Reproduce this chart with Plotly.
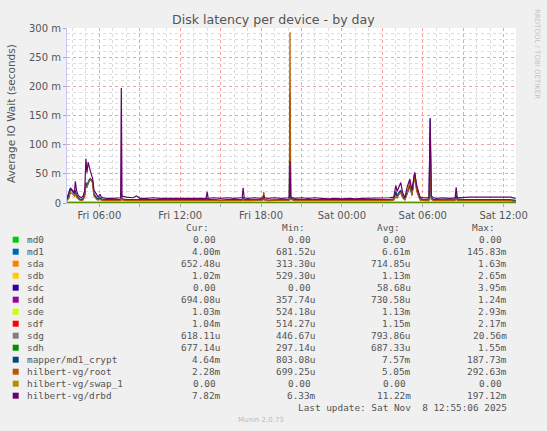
import pandas as pd
import plotly.graph_objects as go

# hours since Fri 2025-11-07 00:00, values in milliseconds
hours = [3.6, 3.75, 3.85, 4.0, 4.15, 4.22, 4.3, 4.4, 4.52, 4.67, 4.8, 4.92, 5.0, 5.08, 5.17, 5.25, 5.33, 5.42, 5.5, 5.6, 5.7, 5.8, 5.92, 6.05, 6.15, 6.3, 6.5,
         7.0, 7.5, 7.58, 7.63, 7.68, 8.0, 8.5, 8.75, 9.0, 9.5, 10.0, 10.5, 11.0, 11.5, 12.0, 12.5, 13.0, 13.5, 13.92,
         14.0, 14.08, 14.5, 15.0, 15.5, 16.0, 16.5, 16.6, 16.67, 16.75, 17.0, 17.5, 18.0, 18.12, 18.2, 18.28, 18.5, 19.0, 19.5, 20.0, 20.1, 20.15, 20.2, 20.5, 21.0,
         21.5, 22.0, 22.5, 23.0, 23.5, 24.0, 24.5, 25.0, 25.5, 26.0, 26.5, 27.0, 27.5,
         27.85, 28.0, 28.1, 28.22, 28.37, 28.5, 28.67, 28.85, 29.04, 29.2, 29.4, 29.55, 29.8, 30.0,
         30.25, 30.47, 30.55, 30.63, 30.8, 31.0, 31.5, 32.0, 32.4, 32.48, 32.56, 33.0, 33.5, 34.0, 34.5, 35.0, 35.5, 36.0, 36.5, 36.9]

md1 = [5, 13, 23, 20, 15, 20, 13, 9, 6, 5, 7, 14, 32, 28, 35, 37, 40, 38, 36, 15, 11, 8, 6, 8, 6, 5, 5,
       5, 5, 5, 18, 6, 5, 5, 6, 5, 5, 5, 5, 5, 5, 5, 5, 5, 5, 5,
       7, 5, 5, 4, 5, 5, 5, 5, 9, 5, 5, 5, 4, 5, 8, 5, 4, 5, 5, 5, 5, 140, 7, 5, 5,
       5, 5, 4, 4, 4, 4, 4, 4, 5, 5, 5, 5, 5,
       6, 18, 11, 17, 20, 11, 6, 18, 28, 14, 50, 23, 7, 5,
       5, 6, 145.8, 8, 5, 5, 5, 5, 6, 12, 6, 5, 5, 5, 5, 5, 5, 5, 5, 4.0]

mapper_md1_crypt = [6, 14, 24, 21, 16, 22, 14, 10, 7, 6, 8, 15, 35, 30, 38, 40, 42, 40, 38, 16, 12, 9, 7, 9, 7, 6, 6,
                    6, 6, 6, 20, 7, 6, 6, 7, 6, 6, 6, 6, 6, 6, 6, 6, 6, 6, 6,
                    8, 6, 6, 5, 6, 6, 6, 6, 10, 6, 6, 6, 5, 6, 9, 6, 5, 6, 6, 6, 6, 187.7, 8, 6, 6,
                    6, 6, 5, 5, 5, 5, 5, 5, 6, 6, 6, 6, 6,
                    7, 20, 12, 18, 22, 12, 7, 20, 30, 15, 52, 25, 8, 6,
                    6, 7, 120, 9, 6, 6, 6, 6, 7, 14, 7, 6, 6, 6, 6, 6, 6, 6, 6, 4.6]

vg_root = [4, 8, 18, 16, 12, 16, 10, 7, 5, 4, 5, 12, 30, 26, 36, 38, 40, 38, 34, 12, 9, 6, 5, 6, 5, 4, 4,
           4, 4, 4, 15, 5, 4, 4, 5, 4, 4, 4, 4, 4, 4, 4, 4, 4, 4, 4,
           5, 4, 4, 4, 4, 4, 4, 4, 6, 4, 4, 4, 4, 5, 19, 5, 4, 4, 4, 4, 5, 292.6, 6, 4, 4,
           4, 4, 4, 3, 3, 3, 3, 3, 4, 4, 4, 4, 4,
           5, 12, 8, 14, 18, 9, 5, 16, 38, 12, 45, 20, 5, 4,
           4, 4, 60, 6, 4, 4, 4, 4, 4, 8, 4, 4, 4, 4, 4, 4, 4, 4, 4, 2.3]

vg_drbd = [9, 18, 26, 22, 18, 37, 22, 15, 11, 9, 12, 22, 76, 52, 70, 62, 55, 48, 42, 22, 18, 14, 10, 15, 10, 9, 8,
           8, 8, 9, 197, 12, 10, 9, 12, 8, 8, 9, 8, 8, 9, 8, 9, 8, 9, 8,
           19, 8, 9, 8, 9, 8, 9, 9, 26, 9, 8, 9, 8, 9, 12, 9, 8, 9, 8, 8, 9, 72, 10, 8, 9,
           8, 9, 8, 7, 8, 7, 8, 7, 8, 8, 9, 8, 9,
           10, 30, 20, 28, 35, 18, 9, 28, 41, 22, 52, 30, 10, 9,
           9, 9, 145, 12, 9, 8, 9, 8, 9, 27, 9, 10, 10, 10, 10, 10, 10, 10, 10, 7.8]

# the quiet devices, read at a coarser step
hours_coarse = [3.6, 6.0, 9.0, 12.0, 15.0, 18.0, 21.0, 24.0, 27.0, 30.0, 33.0, 36.9]
md0 = [0, 0, 0, 0, 0, 0, 0, 0, 0, 0, 0, 0]
sda = [0.7, 0.8, 0.7, 0.6, 0.7, 0.7, 0.8, 0.7, 0.6, 0.9, 0.7, 0.65]
sdb = [1.1, 1.2, 1.1, 1.0, 1.1, 1.2, 1.1, 1.0, 1.1, 1.3, 1.1, 1.02]
sdc = [0.1, 0.0, 0.1, 0.0, 0.0, 0.1, 0.0, 0.0, 0.1, 0.0, 0.0, 0.0]
sdd = [0.7, 0.8, 0.7, 0.7, 0.7, 0.8, 0.7, 0.7, 0.7, 0.8, 0.7, 0.69]
sde = [1.1, 1.2, 1.1, 1.1, 1.1, 1.2, 1.1, 1.0, 1.1, 1.3, 1.1, 1.03]
sdf = [1.2, 1.2, 1.1, 1.1, 1.2, 1.2, 1.1, 1.1, 1.2, 1.3, 1.1, 1.04]
sdg = [0.8, 0.9, 0.8, 0.8, 0.8, 0.8, 0.8, 0.7, 0.8, 0.9, 0.8, 0.62]
sdh = [0.7, 0.8, 0.7, 0.7, 0.7, 0.7, 0.7, 0.6, 0.7, 0.8, 0.7, 0.68]
swap_1 = [0, 0, 0, 0, 0, 0, 0, 0, 0, 0, 0, 0]

names = ["md0", "md1", "sda", "sdb", "sdc", "sdd", "sde", "sdf", "sdg", "sdh",
         "mapper/md1_crypt", "hilbert-vg/root", "hilbert-vg/swap_1", "hilbert-vg/drbd"]
colors = ["#00CC00", "#0066B3", "#FF8000", "#FFCC00", "#330099", "#990099", "#CCFF00",
          "#FF0000", "#808080", "#008F00", "#00487D", "#B35A00", "#B38F00", "#6B006B"]
cur = ["0.00", "4.00m", "652.48u", "1.02m", "0.00", "694.08u", "1.03m", "1.04m", "618.11u",
       "677.14u", "4.64m", "2.28m", "0.00", "7.82m"]
mins = ["0.00", "681.52u", "313.30u", "529.30u", "0.00", "357.74u", "524.18u", "514.27u",
        "446.67u", "297.14u", "803.08u", "699.25u", "0.00", "6.33m"]
avgs = ["0.00", "6.61m", "714.85u", "1.13m", "58.68u", "730.58u", "1.13m", "1.15m", "793.86u",
        "687.33u", "7.57m", "5.05m", "0.00", "11.22m"]
maxs = ["0.00", "145.83m", "1.63m", "2.65m", "3.95m", "1.24m", "2.93m", "2.17m", "20.56m",
        "1.55m", "187.73m", "292.63m", "0.00", "197.12m"]

tick_labels = ["Fri 06:00", "", "Fri 12:00", "", "Fri 18:00", "", "Sat 00:00", "", "Sat 06:00", "", "Sat 12:00"]
y_ticks = [0, 50, 100, 150, 200, 250, 300]
y_labels = ["0", "50 m", "100 m", "150 m", "200 m", "250 m", "300 m"]

t0 = pd.Timestamp("2025-11-07 00:00")


def to_time(h):
    return t0 + pd.to_timedelta(h, unit="h")


series = [(hours_coarse, md0), (hours, md1), (hours_coarse, sda), (hours_coarse, sdb),
          (hours_coarse, sdc), (hours_coarse, sdd), (hours_coarse, sde), (hours_coarse, sdf),
          (hours_coarse, sdg), (hours_coarse, sdh), (hours, mapper_md1_crypt), (hours, vg_root),
          (hours_coarse, swap_1), (hours, vg_drbd)]

fig = go.Figure()
for (h, v), name, col in zip(series, names, colors):
    assert len(h) == len(v), name
    fig.add_trace(go.Scatter(x=to_time(h), y=v, mode="lines", name=name,
                             line=dict(color=col, width=1.2), showlegend=False))

W, H = 547, 431
L, R, T, B = 67, 31, 28, 228
pw, ph = W - L - R, H - T - B


def px(x, y):
    return (x - L) / pw, (H - B - y) / ph


mono = "DejaVu Sans Mono"
txt = "#555555"
ann = []


def label(xp, yp, text, anchor="center", **kw):
    x, y = px(xp, yp)
    d = dict(x=x, y=y, text=text, showarrow=False, xanchor=anchor, yanchor="middle",
             xref="paper", yref="paper")
    d.update(kw)
    ann.append(d)


label(273, 19, "Disk latency per device - by day", font=dict(family="DejaVu Sans", size=12.6, color=txt))
label(11, 114, "Average IO Wait (seconds)", textangle=-90,
      font=dict(family="DejaVu Sans", size=10.5, color=txt))
label(537, 54, "RRDTOOL / TOBI OETIKER", textangle=90,
      font=dict(family="DejaVu Sans", size=7, color="#c4c4c4"))

for hx, head in zip([211.3, 306.7, 401.7, 497.3], ["Cur:", "Min:", "Avg:", "Max:"]):
    label(hx, 227.3, head, "right", font=dict(family=mono, size=9.4, color=txt))

shapes = []
for i, name in enumerate(names):
    ry = 239.7 + 12 * i
    x0, y0 = px(12.7, ry + 3)
    x1, y1 = px(18.7, ry - 3)
    shapes.append(dict(type="rect", xref="paper", yref="paper", x0=x0, y0=y0, x1=x1, y1=y1,
                       fillcolor=colors[i], line=dict(width=0)))
    label(25, ry, name, "left", font=dict(family=mono, size=9.4, color=txt))
    for cx, vals in zip([223.3, 318.3, 413.3, 509], [cur, mins, avgs, maxs]):
        s = vals[i]
        if s[-1].isdigit():
            s = s + "\u00a0"
        label(cx, ry, s, "right", font=dict(family=mono, size=9.4, color=txt))

label(509, 407.7, "Last update: Sat Nov \u00a08 12:55:06 2025", "right",
      font=dict(family=mono, size=9.4, color=txt))
label(260.7, 420.3, "Munin 2.0.73", font=dict(family="DejaVu Sans", size=7, color="#bbbbbb"))

fig.update_layout(
    width=W, height=H,
    margin=dict(l=L, r=R, t=T, b=B, pad=0),
    paper_bgcolor="#F0F0F0", plot_bgcolor="#FFFFFF",
    annotations=ann, shapes=shapes,
    font=dict(family="DejaVu Sans", size=10, color=txt),
)
fig.update_xaxes(
    type="date", range=[to_time(3.6), to_time(36.92)],
    tickvals=pd.date_range("2025-11-07 06:00", "2025-11-08 12:00", freq="3h"),
    ticktext=tick_labels, tickfont=dict(size=10, color=txt),
    showgrid=True, gridcolor="#f2a0a0", griddash="dot", gridwidth=1,
    minor=dict(dtick=3600000, tick0="2025-11-07 00:00", showgrid=True, gridcolor="#dcdcdc",
               griddash="dot", ticks=""),
    ticks="outside", ticklen=3, tickcolor="#aaaaaa",
    showline=True, linecolor="#c8c8f4", zeroline=False,
)
fig.update_yaxes(
    range=[0, 300], tickvals=y_ticks, ticktext=y_labels, tickfont=dict(size=10, color=txt),
    showgrid=True, gridcolor="#f2a0a0", griddash="dot", gridwidth=1,
    minor=dict(dtick=10, showgrid=True, gridcolor="#dcdcdc", griddash="dot", ticks=""),
    ticks="outside", ticklen=3, tickcolor="#aaaaaa",
    showline=True, linecolor="#c8c8f4", zeroline=False,
)

fig.write_html("out.html", config={"displayModeBar": False},
               post_script="document.body.style.margin='0';")
